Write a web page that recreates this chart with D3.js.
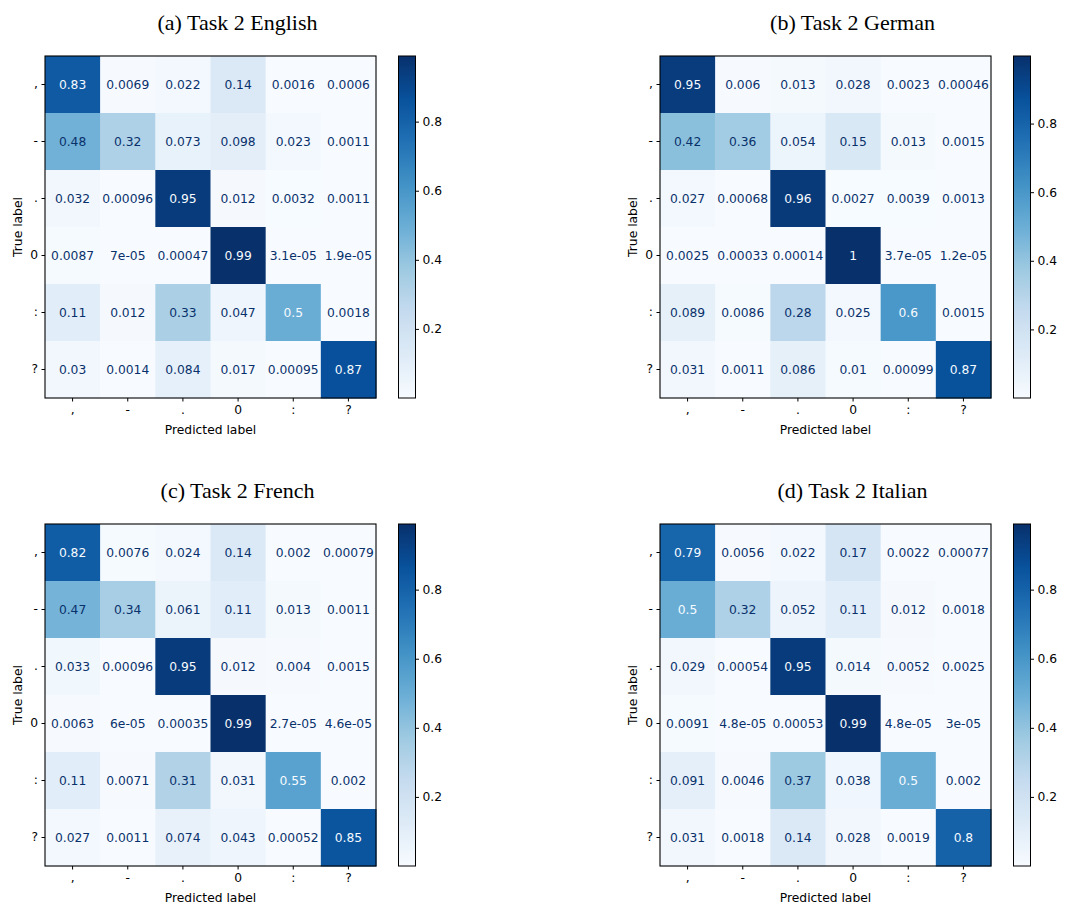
<!DOCTYPE html>
<html>
<head>
<meta charset="utf-8">
<script src="https://cdn.jsdelivr.net/npm/d3@7"></script>
<style>
  html, body { margin: 0; padding: 0; background: #fff; }
  svg { display: block; }
</style>
</head>
<body>
<svg id="chart" width="1078" height="904"></svg>
<script>
// ---------------- DATA ----------------
const labels = [",", "-", ".", "0", ":", "?"];

const titles = ["(a) Task 2 English", "(b) Task 2 German", "(c) Task 2 French", "(d) Task 2 Italian"];

const english = [
  [0.83, 0.0069, 0.022, 0.14, 0.0016, 0.0006],
  [0.48, 0.32, 0.073, 0.098, 0.023, 0.0011],
  [0.032, 0.00096, 0.95, 0.012, 0.0032, 0.0011],
  [0.0087, 7e-05, 0.00047, 0.99, 3.1e-05, 1.9e-05],
  [0.11, 0.012, 0.33, 0.047, 0.5, 0.0018],
  [0.03, 0.0014, 0.084, 0.017, 0.00095, 0.87]
];

const german = [
  [0.95, 0.006, 0.013, 0.028, 0.0023, 0.00046],
  [0.42, 0.36, 0.054, 0.15, 0.013, 0.0015],
  [0.027, 0.00068, 0.96, 0.0027, 0.0039, 0.0013],
  [0.0025, 0.00033, 0.00014, 0.997, 3.7e-05, 1.2e-05],
  [0.089, 0.0086, 0.28, 0.025, 0.6, 0.0015],
  [0.031, 0.0011, 0.086, 0.01, 0.00099, 0.87]
];

const french = [
  [0.82, 0.0076, 0.024, 0.14, 0.002, 0.00079],
  [0.47, 0.34, 0.061, 0.11, 0.013, 0.0011],
  [0.033, 0.00096, 0.95, 0.012, 0.004, 0.0015],
  [0.0063, 6e-05, 0.00035, 0.99, 2.7e-05, 4.6e-05],
  [0.11, 0.0071, 0.31, 0.031, 0.55, 0.002],
  [0.027, 0.0011, 0.074, 0.043, 0.00052, 0.85]
];

const italian = [
  [0.79, 0.0056, 0.022, 0.17, 0.0022, 0.00077],
  [0.5, 0.32, 0.052, 0.11, 0.012, 0.0018],
  [0.029, 0.00054, 0.95, 0.014, 0.0052, 0.0025],
  [0.0091, 4.8e-05, 0.00053, 0.99, 4.8e-05, 3e-05],
  [0.091, 0.0046, 0.37, 0.038, 0.5, 0.002],
  [0.031, 0.0018, 0.14, 0.028, 0.0019, 0.8]
];

const matrices = [english, german, french, italian];

// matplotlib "Blues" anchor colours
const bluesStops = ["#f7fbff","#deebf7","#c6dbef","#9ecae1","#6baed6","#4292c6","#2171b5","#08519c","#08306b"];

// ---------------- LAYOUT ----------------
const panelOrigins = [[45, 56], [660, 56], [45, 524], [660, 524]];
const matW = 331, matH = 342;
const cbOffset = 353.5, cbW = 17;
const FONT = "DejaVu Sans, sans-serif";
const FS = 12.3;

// python-like "{:.2g}" formatting
function fmt2g(v) {
  if (v === 0) return "0";
  const e = v.toExponential(1);
  const [mant, expStr] = e.split("e");
  const exp = parseInt(expStr, 10);
  if (exp < -4 || exp >= 2) {
    let m = mant.replace(/\.?0+$/, "");
    const sign = exp < 0 ? "-" : "+";
    const ae = Math.abs(exp);
    return m + "e" + sign + (ae < 10 ? "0" + ae : ae);
  }
  const decimals = Math.max(0, 1 - exp);
  let s = (+e).toFixed(decimals);
  if (s.indexOf(".") >= 0) s = s.replace(/0+$/, "").replace(/\.$/, "");
  return s;
}

const svg = d3.select("#chart");

matrices.forEach((mat, pi) => {
  const [ox, oy] = panelOrigins[pi];
  const flat = mat.flat();
  const vmin = d3.min(flat), vmax = d3.max(flat);
  const cmapNorm = d3.scaleLinear()
    .domain(bluesStops.map((_, i) => i / (bluesStops.length - 1)))
    .range(bluesStops)
    .interpolate(d3.interpolateRgb)
    .clamp(true);
  const norm = d3.scaleLinear().domain([vmin, vmax]).range([0, 1]).clamp(true);
  const color = v => cmapNorm(norm(v));
  const thresh = (vmin + vmax) / 2;

  const x = d3.scaleBand().domain(labels).range([0, matW]).padding(0);
  const y = d3.scaleBand().domain(labels).range([0, matH]).padding(0);

  const g = svg.append("g").attr("transform", `translate(${ox},${oy})`);

  // title
  g.append("text")
    .attr("x", matW / 2 + 27)
    .attr("y", -26)
    .attr("text-anchor", "middle")
    .attr("font-family", "Liberation Serif, Times New Roman, serif")
    .attr("font-size", 22)
    .attr("fill", "#000")
    .text(titles[pi]);

  const cells = [];
  mat.forEach((row, r) => row.forEach((v, c) => cells.push({ r, c, v })));

  g.selectAll("rect.cell").data(cells).join("rect")
    .attr("class", "cell")
    .attr("x", d => x(labels[d.c]))
    .attr("y", d => y(labels[d.r]))
    .attr("width", x.bandwidth() + 0.5)
    .attr("height", y.bandwidth() + 0.5)
    .attr("fill", d => color(d.v));

  g.selectAll("text.val").data(cells).join("text")
    .attr("class", "val")
    .attr("x", d => x(labels[d.c]) + x.bandwidth() / 2)
    .attr("y", d => y(labels[d.r]) + y.bandwidth() / 2)
    .attr("dy", "0.36em")
    .attr("text-anchor", "middle")
    .attr("font-family", FONT)
    .attr("font-size", FS)
    .attr("fill", d => d.v > thresh ? bluesStops[0] : bluesStops[bluesStops.length - 1])
    .text(d => fmt2g(d.v));

  // frame
  g.append("rect")
    .attr("x", 0).attr("y", 0).attr("width", matW).attr("height", matH)
    .attr("fill", "none").attr("stroke", "#000").attr("stroke-width", 1.1);

  // x axis
  const xAxis = g.append("g").attr("transform", `translate(0,${matH})`)
    .call(d3.axisBottom(x).tickSize(3.5).tickPadding(3.5));
  xAxis.select(".domain").remove();
  xAxis.selectAll("text").attr("font-family", FONT).attr("font-size", FS).attr("fill", "#000");
  xAxis.selectAll("line").attr("stroke", "#000").attr("stroke-width", 1);

  // y axis
  const yAxis = g.append("g")
    .call(d3.axisLeft(y).tickSize(3.5).tickPadding(3.5));
  yAxis.select(".domain").remove();
  yAxis.selectAll("text").attr("font-family", FONT).attr("font-size", FS).attr("fill", "#000");
  yAxis.selectAll("line").attr("stroke", "#000").attr("stroke-width", 1);

  // axis labels
  g.append("text")
    .attr("x", matW / 2).attr("y", matH + 36)
    .attr("text-anchor", "middle")
    .attr("font-family", FONT).attr("font-size", FS).attr("fill", "#000")
    .text("Predicted label");

  g.append("text")
    .attr("transform", `translate(-23.5,${matH / 2}) rotate(-90)`)
    .attr("text-anchor", "middle")
    .attr("font-family", FONT).attr("font-size", FS).attr("fill", "#000")
    .text("True label");

  // colorbar
  const gradId = "cbgrad" + pi;
  const grad = svg.append("defs").append("linearGradient")
    .attr("id", gradId).attr("x1", 0).attr("y1", 1).attr("x2", 0).attr("y2", 0);
  d3.range(0, 1.0001, 0.02).forEach(t => {
    grad.append("stop").attr("offset", t).attr("stop-color", cmapNorm(t));
  });
  const cb = g.append("g").attr("transform", `translate(${cbOffset},0)`);
  cb.append("rect").attr("width", cbW).attr("height", matH).attr("fill", `url(#${gradId})`);
  cb.append("rect").attr("width", cbW).attr("height", matH)
    .attr("fill", "none").attr("stroke", "#000").attr("stroke-width", 1);
  const cbScale = d3.scaleLinear().domain([vmin, vmax]).range([matH, 0]);
  const cbAxis = cb.append("g").attr("transform", `translate(${cbW},0)`)
    .call(d3.axisRight(cbScale).tickValues(cbScale.ticks(5)).tickFormat(d3.format(".1f")).tickSize(3.5).tickPadding(3.5));
  cbAxis.select(".domain").remove();
  cbAxis.selectAll("text").attr("font-family", FONT).attr("font-size", FS).attr("fill", "#000");
  cbAxis.selectAll("line").attr("stroke", "#000").attr("stroke-width", 1);
});
</script>
</body>
</html>
